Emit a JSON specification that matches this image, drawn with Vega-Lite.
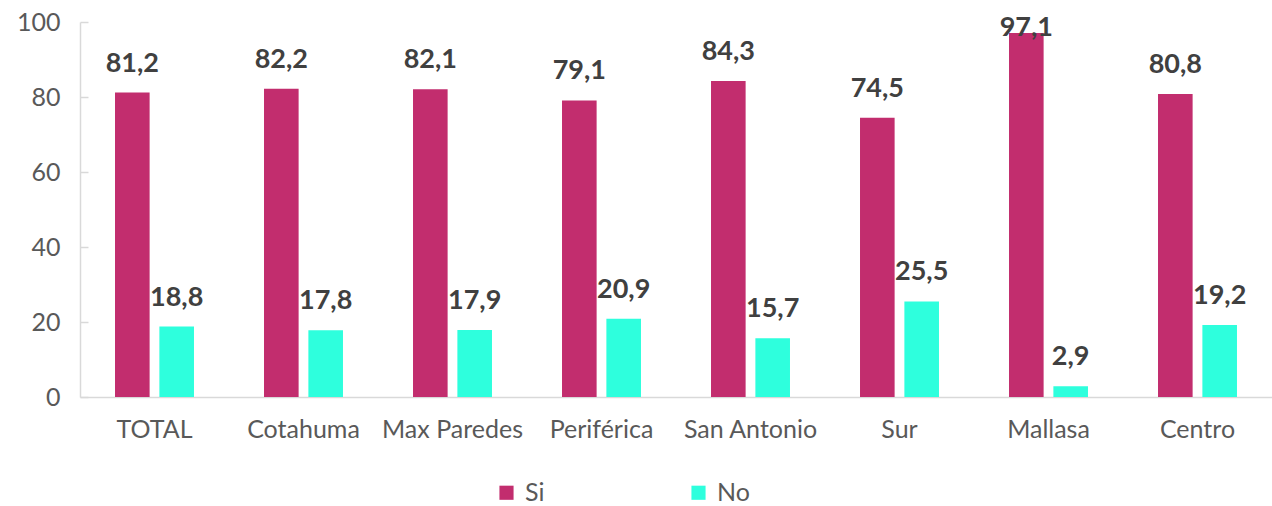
{
  "$schema": "https://vega.github.io/schema/vega-lite/v6.json",
  "autosize": "none",
  "width": 1192,
  "height": 375,
  "padding": {"left": 80, "top": 22, "right": 0, "bottom": 109},
  "background": "white",
  "config": {
    "view": {"stroke": null},
    "font": "Lato",
    "locale": {"number": {"decimal": ",", "thousands": ".", "grouping": [3], "currency": ["", ""]}}
  },
  "data": {
    "values": [
      {"zona": "TOTAL", "resp": "Si", "valor": 81.2},
      {"zona": "TOTAL", "resp": "No", "valor": 18.8},
      {"zona": "Cotahuma", "resp": "Si", "valor": 82.2},
      {"zona": "Cotahuma", "resp": "No", "valor": 17.8},
      {"zona": "Max Paredes", "resp": "Si", "valor": 82.1},
      {"zona": "Max Paredes", "resp": "No", "valor": 17.9},
      {"zona": "Periférica", "resp": "Si", "valor": 79.1},
      {"zona": "Periférica", "resp": "No", "valor": 20.9},
      {"zona": "San Antonio", "resp": "Si", "valor": 84.3},
      {"zona": "San Antonio", "resp": "No", "valor": 15.7},
      {"zona": "Sur", "resp": "Si", "valor": 74.5},
      {"zona": "Sur", "resp": "No", "valor": 25.5},
      {"zona": "Mallasa", "resp": "Si", "valor": 97.1},
      {"zona": "Mallasa", "resp": "No", "valor": 2.9},
      {"zona": "Centro", "resp": "Si", "valor": 80.8},
      {"zona": "Centro", "resp": "No", "valor": 19.2}
    ]
  },
  "encoding": {
    "x": {
      "field": "zona", "type": "nominal", "sort": null,
      "scale": {"paddingInner": 0.47, "paddingOuter": 0.235},
      "axis": {"title": null, "labelAngle": 0, "labelFontSize": 25, "labelColor": "#595959", "labelPadding": 20, "ticks": false, "domainColor": "#d9d9d9", "domainWidth": 1.5, "labelFont": "Lato"}
    },
    "xOffset": {"field": "resp", "type": "nominal", "sort": ["Si", "No"], "scale": {"paddingInner": 0.22, "paddingOuter": 0}},
    "y": {
      "field": "valor", "type": "quantitative",
      "scale": {"domain": [0, 100], "nice": false},
      "axis": {"title": null, "values": [0, 20, 40, 60, 80, 100], "grid": false, "ticks": true, "tickSize": -8, "tickColor": "#d9d9d9", "tickWidth": 1.5, "labelFontSize": 25, "labelColor": "#595959", "labelPadding": 28, "domainColor": "#d9d9d9", "domainWidth": 1.5, "labelFont": "Lato"}
    }
  },
  "layer": [
    {
      "mark": {"type": "bar"},
      "encoding": {
        "color": {
          "field": "resp", "type": "nominal", "sort": ["Si", "No"],
          "scale": {"domain": ["Si", "No"], "range": ["#C22D6E", "#2EFFDD"]},
          "legend": {"title": null, "orient": "none", "legendX": 414, "legendY": 458, "direction": "horizontal", "symbolType": "square", "symbolSize": 200, "symbolStrokeWidth": 0, "labelFontSize": 25, "labelColor": "#595959", "columnPadding": 141, "labelOffset": 6}
        }
      }
    },
    {
      "transform": [{"filter": "datum.valor < 95"}],
      "mark": {"type": "text", "baseline": "alphabetic", "dy": -21, "fontSize": 27, "fontWeight": "bold", "color": "#404040"},
      "encoding": {
        "text": {"field": "valor", "type": "quantitative", "format": ".1f"}
      }
    },
    {
      "transform": [{"filter": "datum.valor >= 95"}],
      "mark": {"type": "text", "baseline": "alphabetic", "dy": 3, "fontSize": 27, "fontWeight": "bold", "color": "#404040"},
      "encoding": {
        "text": {"field": "valor", "type": "quantitative", "format": ".1f"}
      }
    }
  ]
}
